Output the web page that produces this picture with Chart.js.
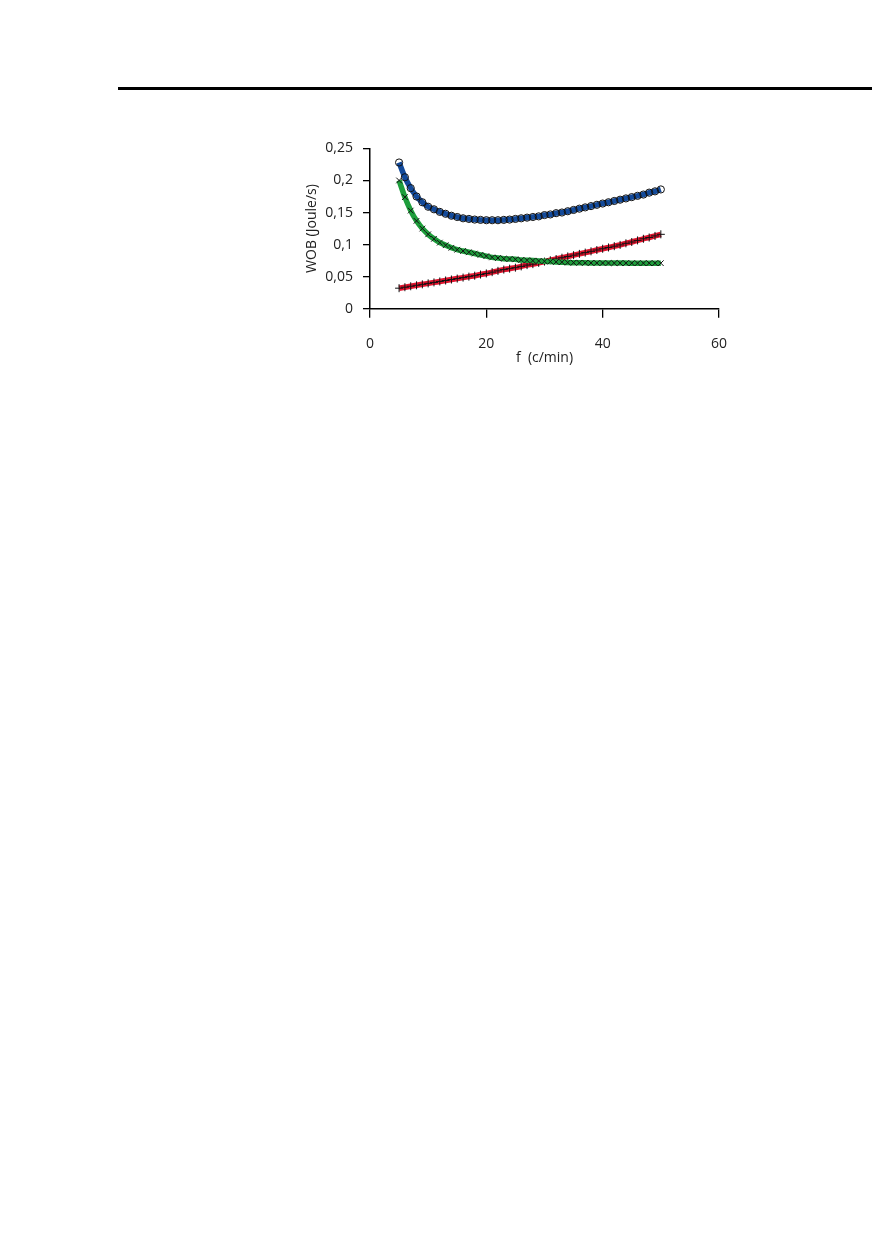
<!DOCTYPE html>
<html>
<head>
<meta charset="utf-8">
<script src="https://cdn.jsdelivr.net/npm/chart.js@4.4.1/dist/chart.umd.min.js"></script>
<style>
  html, body { margin:0; padding:0; background:#fff; }
  body { width:872px; height:1241px; position:relative; overflow:hidden; }
  #rule { position:absolute; left:118px; top:87px; width:754px; height:2.7px; background:#000; }
  #wrap { position:absolute; left:290px; top:130px; width:455px; height:250px; }
</style>
</head>
<body>
<div id="rule"></div>
<div id="wrap"><canvas id="c"></canvas></div>
<script>
// Frequency f (c/min)
const freq = [5,6,7,8,9,10,11,12,13,14,15,16,17,18,19,20,21,22,23,24,25,26,27,28,29,30,
              31,32,33,34,35,36,37,38,39,40,41,42,43,44,45,46,47,48,49,50];
// Total WOB (blue, open circles)
const wobTotal = [0.228,0.205,0.188,0.175,0.166,0.159,0.155,0.151,0.148,0.145,0.143,0.141,0.140,0.139,0.1385,0.138,
                  0.138,0.138,0.1385,0.139,0.140,0.141,0.142,0.143,0.144,0.146,0.147,0.149,0.150,0.152,0.154,
                  0.156,0.158,0.160,0.162,0.164,0.166,0.168,0.170,0.172,0.174,0.176,0.178,0.181,0.183,0.186];
// Elastic WOB (green, x markers)
const wobElastic = [0.200,0.174,0.153,0.137,0.125,0.116,0.109,0.103,0.099,0.095,0.092,0.090,0.088,0.086,0.084,0.082,
                    0.080,0.079,0.078,0.0775,0.077,0.076,0.0755,0.075,0.0745,0.074,0.0735,0.073,0.0725,0.072,0.0718,
                    0.0716,0.0715,0.0714,0.0713,0.0712,0.0712,0.0711,0.0711,0.0711,0.071,0.071,0.071,0.071,0.071,0.071];
// Resistive WOB (red, + markers)
const wobResistive = [0.032,0.0335,0.035,0.0365,0.038,0.0395,0.041,0.0425,0.044,0.0455,0.047,0.0485,0.050,0.0515,0.0533,0.055,
                      0.057,0.059,0.061,0.0625,0.064,0.066,0.068,0.0695,0.0715,0.0735,0.0755,0.0775,0.0795,0.0815,0.0835,
                      0.0855,0.0875,0.0895,0.0915,0.0935,0.0955,0.0975,0.0995,0.102,0.104,0.1065,0.109,0.111,0.1135,0.116];
const xTicks = [0,20,40,60];
const yTicks = [0,0.05,0.1,0.15,0.2,0.25];

const toPts = (arr) => freq.map((f,i) => ({x:f, y:arr[i]}));
const fontFam = "'Open Sans', 'DejaVu Sans', sans-serif";

function ds(label, arr, color, style, r) {
  return {
    label, data: toPts(arr),
    borderColor: color, borderWidth: 5.5,
    cubicInterpolationMode: 'monotone',
    pointStyle: style, pointRadius: r,
    pointBorderColor: '#111', pointBorderWidth: 1,
    pointBackgroundColor: 'rgba(0,0,0,0)',
    fill: false
  };
}

new Chart(document.getElementById('c'), {
  type: 'line',
  data: {
    datasets: [
      ds('Totale', wobTotal, '#134a9a', 'circle', 3.6),
      ds('Elastico', wobElastic, '#1e9e3c', 'crossRot', 4),
      ds('Resistivo', wobResistive, '#e2142e', 'cross', 4)
    ]
  },
  options: {
    responsive: true, maintainAspectRatio: false, animation: false,
    layout: { autoPadding: false, padding: { left: 0, right: 2.3, top: 17.7, bottom: 0 } },
    plugins: { legend: { display: false }, tooltip: { enabled: false } },
    scales: {
      x: {
        type: 'linear', min: 0, max: 60,
        afterBuildTicks: (s) => { s.ticks = xTicks.map(v => ({value: v})); },
        afterFit: (s) => { s.height = 71.3; },
        grid: { drawOnChartArea: false, drawTicks: true, tickLength: 9, color: '#000', lineWidth: 1.3 },
        border: { display: true, color: '#000', width: 1.5 },
        ticks: { color: '#222', padding: 18, font: { family: fontFam, size: 14 }, maxRotation: 0 },
        title: { display: true, text: 'f  (c/min)', color: '#222', font: { family: fontFam, size: 14 }, padding: { top: 0, bottom: 13.6 } }
      },
      y: {
        type: 'linear', min: 0, max: 0.25,
        afterBuildTicks: (s) => { s.ticks = yTicks.map(v => ({value: v})); },
        afterFit: (s) => { s.width = 80; },
        grid: { drawOnChartArea: false, drawTicks: true, tickLength: 7, color: '#000', lineWidth: 1.3 },
        border: { display: true, color: '#000', width: 1.5 },
        ticks: { color: '#222', padding: 10, font: { family: fontFam, size: 14 },
                 callback: (v) => String(Number(v.toFixed(2))).replace('.', ',') },
        title: { display: true, text: 'WOB (Joule/s)', color: '#222', font: { family: fontFam, size: 14 }, padding: { top: 13.6, bottom: 0 } }
      }
    }
  }
});
</script>
</body>
</html>
